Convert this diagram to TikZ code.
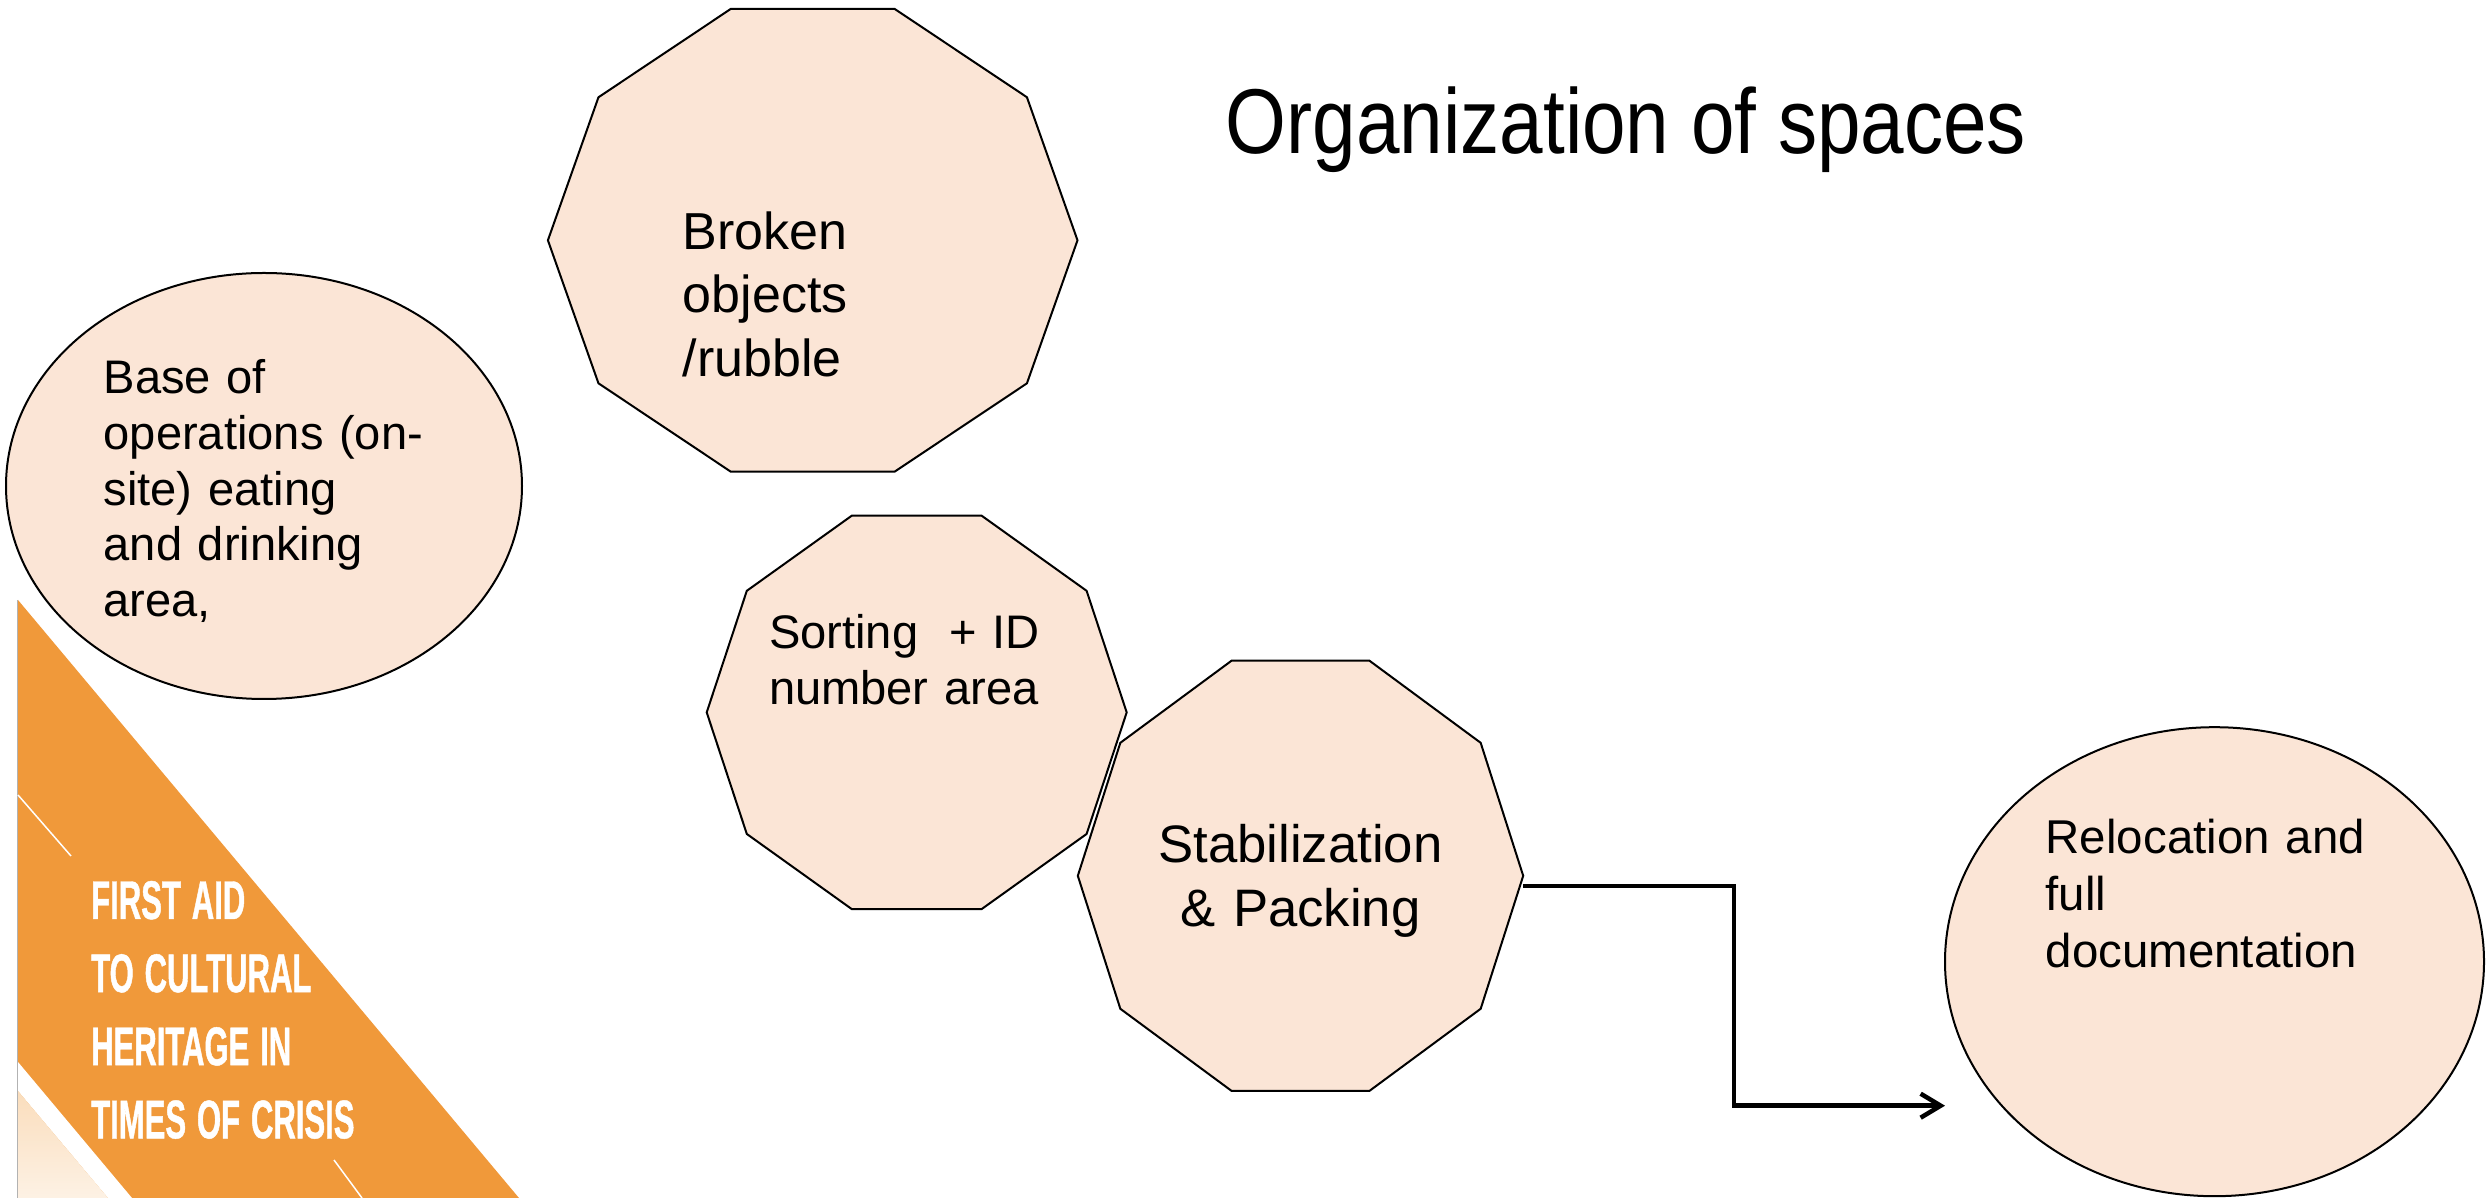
\documentclass[tikz,border=0pt]{standalone}
\usepackage{fontspec}
\setmainfont{Liberation Sans}
\newfontfamily\narrowfont[FakeStretch=0.85]{Liberation Sans}
\newfontfamily\logofont[FakeStretch=0.57,FakeBold=0.8]{Liberation Sans}
\usetikzlibrary{shapes.geometric,arrows.meta}

\definecolor{peach}{RGB}{251,229,214}
\definecolor{logoorange}{RGB}{240,153,58}
\definecolor{logopeach}{RGB}{250,221,188}

\begin{document}
\begin{tikzpicture}[x=0.1mm, y=-0.1mm,
		deca/.style={regular polygon, regular polygon sides=10, draw, fill=peach, line width=0.2mm, inner sep=0pt, outer sep=0pt},
		oval/.style={ellipse, draw, fill=peach, line width=0.2mm, inner sep=0pt, outer sep=0pt},
		txt/.style={anchor=base west, align=left, inner sep=0pt, text width=#1}]
	\useasboundingbox (0,0) rectangle (2489,1198);
	
	% Logo corner
	\fill[logoorange] (18,600) -- (519,1198) -- (18,1198) -- cycle;
	\fill[white] (18,1062) -- (132,1198) -- (108,1198) -- (18,1091) -- cycle;
	\shade[top color=logopeach, bottom color=logopeach!40] (18,1091) -- (108,1198) -- (18,1198) -- cycle;
	\draw[gray!60, line width=0.15mm] (17.5,600) -- (17.5,1198);
	\draw[white, line width=0.15mm] (18,795) -- (71,856);
	\draw[white, line width=0.15mm] (334,1160) -- (362,1198);
	\node[txt=6cm, text=white, font=\logofont\bfseries\fontsize{15.5}{20.8}\selectfont] (logo) at (90.5,919)
		{\spaceskip=0.2em\relax FIRST AID\\TO CULTURAL\\HERITAGE IN\\TIMES OF CRISIS};
	
	% Title
	\node[anchor=base west, inner sep=0pt, font=\narrowfont\fontsize{26.2}{30}\selectfont] (title) at (1225,154) {Organization of spaces};
	
	% Spaces
	\node[oval, minimum width=51.6mm, minimum height=42.6mm] (base) at (264,486) {};
	\node[deca, minimum size=52.96mm, yscale=0.919] (broken) at (812.7,240.3) {};
	\node[deca, minimum size=42mm, yscale=0.985] (sorting) at (916.7,712.4) {};
	\node[deca, minimum size=44.54mm, yscale=1.016] (stab) at (1300.5,875.8) {};
	\node[oval, minimum width=53.9mm, minimum height=46.9mm] (reloc) at (2214.5,961.7) {};
	
	% Texts
	\node[txt=5cm, font=\fontsize{13.4}{15.9}\selectfont] (basetxt) at (103,393.3)
		{Base of\\operations (on-\\site) eating\\and drinking\\area,};
	\node[txt=5cm, font=\fontsize{14.8}{18.1}\selectfont] (brokentxt) at (682,249.3)
		{Broken\\objects\\/rubble};
	\node[txt=5cm, font=\fontsize{13.4}{15.9}\selectfont] (sortingtxt) at (768.3,649)
		{Sorting\ \ + ID\\number area};
	\node[anchor=base, align=center, inner sep=0pt, text width=5cm, font=\fontsize{15}{18.2}\selectfont] (stabtxt) at (1300.5,862.7)
		{Stabilization\\\& Packing};
	\node[txt=5cm, font=\fontsize{13.5}{16.2}\selectfont] (reloctxt) at (2045,854)
		{Relocation and\\full\\documentation};
	
	% Connector
	\draw[line width=0.45mm, -{Straight Barb[length=2mm,width=2.4mm]}]
	([yshift=-1mm]stab.east) -- ++(211,0) |- ([yshift=-14.4mm]reloc.west);
\end{tikzpicture}
\end{document}
